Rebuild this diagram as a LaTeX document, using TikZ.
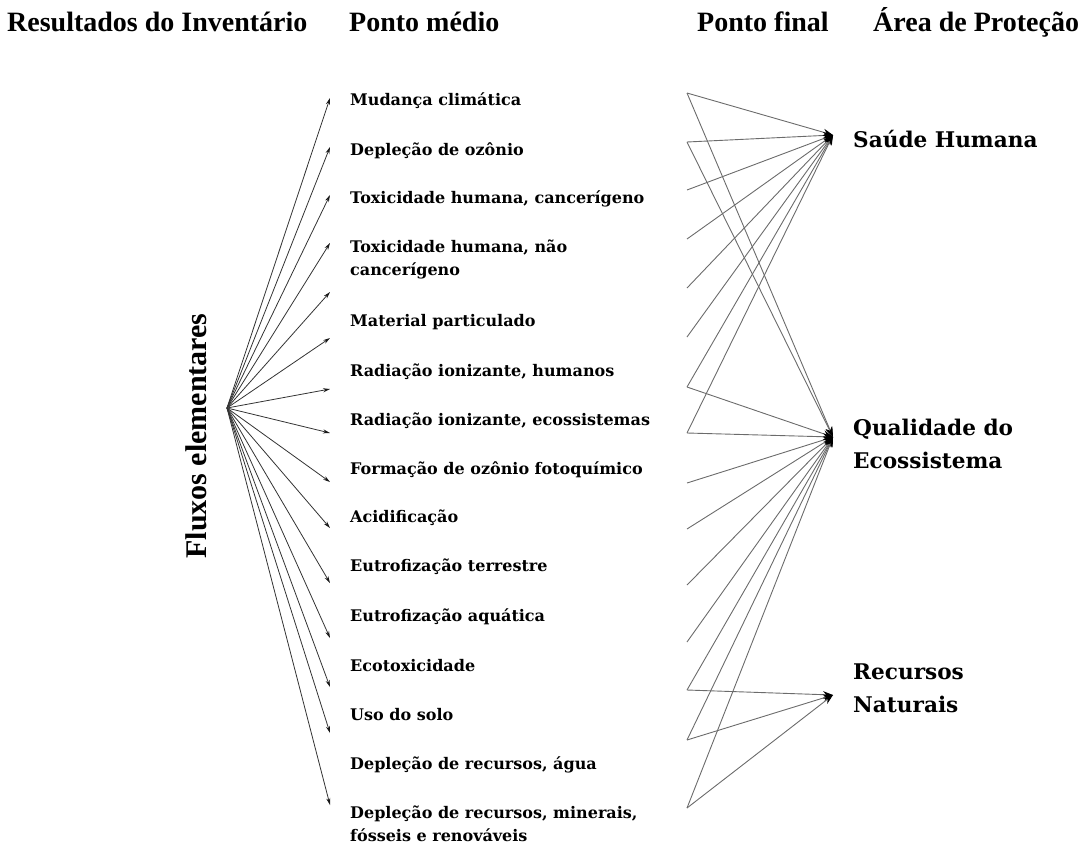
\documentclass[tikz,border=0pt]{standalone}
\usepackage{fontspec}
\setmainfont{Liberation Serif}
\newfontfamily\catfont{DejaVu Serif}
\usetikzlibrary{arrows.meta}

\begin{document}
\begin{tikzpicture}[x=1pt,y=-1pt,
  headtext/.style={font=\fontsize{28}{32}\selectfont\bfseries, anchor=base west, inner sep=0pt},
  cattext/.style={font=\catfont\fontsize{16}{23}\selectfont\bfseries, anchor=west, align=left, inner sep=0pt},
  areatext/.style={font=\catfont\fontsize{21.6}{33}\selectfont\bfseries, anchor=west, align=left, inner sep=0pt},
  flowtext/.style={font=\fontsize{30}{34}\selectfont\bfseries, rotate=90, inner sep=0pt},
  flow/.style={draw=black!80, line width=0.8pt, -{Stealth[length=7pt,width=4pt,color=black!90]}},
  link/.style={draw=black!58, line width=0.9pt, -{Stealth[length=10pt,width=7pt,color=black]}},
]
\useasboundingbox (0,0) rectangle (1090,847);

% column headers
\node[headtext] (hinv) at (7,31) {Resultados do Inventário};
\node[headtext] (hmid) at (349,31) {Ponto médio};
\node[headtext] (hend) at (697,31) {Ponto final};
\node[headtext] (hapr) at (873,31) {Área de Proteção};

% elementary flows and their fan of arrows
\node[flowtext] (fluxos) at (196,436) {Fluxos elementares};
\coordinate (hub) at (227,408);

\foreach \i/\y in {1/98,2/147,3/195,4/243,5/292,6/338,7/389,8/433,9/482,10/528,11/583,12/638,13/687,14/733,15/805}
  \coordinate (m\i) at (330,\y);
\foreach \i/\y in {1/93,2/142,3/190,4/239,5/288,6/337,7/387,8/433,9/483,10/529,11/585,12/642,13/690,14/740,15/808}
  \coordinate (p\i) at (687,\y);

\foreach \i in {1,...,15}
  \draw[flow] (hub) -- (m\i);

% midpoint categories
\node[cattext] (c1)  at (350,101) {Mudança climática};
\node[cattext] (c2)  at (350,151) {Depleção de ozônio};
\node[cattext] (c3)  at (350,199) {Toxicidade humana, cancerígeno};
\node[cattext] (c4)  at (350,259) {Toxicidade humana, não\\cancerígeno};
\node[cattext] (c5)  at (350,322) {Material particulado};
\node[cattext] (c6)  at (350,372) {Radiação ionizante, humanos};
\node[cattext] (c7)  at (350,421) {Radiação ionizante, ecossistemas};
\node[cattext] (c8)  at (350,470) {Formação de ozônio fotoquímico};
\node[cattext] (c9)  at (350,518) {Acidificação};
\node[cattext] (c10) at (350,567) {Eutrofização terrestre};
\node[cattext] (c11) at (350,617) {Eutrofização aquática};
\node[cattext] (c12) at (350,666) {Ecotoxicidade};
\node[cattext] (c13) at (350,715) {Uso do solo};
\node[cattext] (c14) at (350,765) {Depleção de recursos, água};
\node[cattext] (c15) at (350,824) {Depleção de recursos, minerais,\\fósseis e renováveis};

% areas of protection
\coordinate (sh) at (833,135);
\coordinate (eq) at (833,437);
\coordinate (rn) at (833,695);
\node[areatext] (tsh) at (853,139) {Saúde Humana};
\node[areatext] (teq) at (853,444) {Qualidade do\\Ecossistema};
\node[areatext] (trn) at (853,688) {Recursos\\Naturais};

% endpoint links
\foreach \i in {1,...,8}
  \draw[link] (p\i) -- (sh);
\foreach \i in {1,2,7,8,9,10,11,12,13,14,15}
  \draw[link] (p\i) -- (eq);
\foreach \i in {13,14,15}
  \draw[link] (p\i) -- (rn);
\end{tikzpicture}
\end{document}
